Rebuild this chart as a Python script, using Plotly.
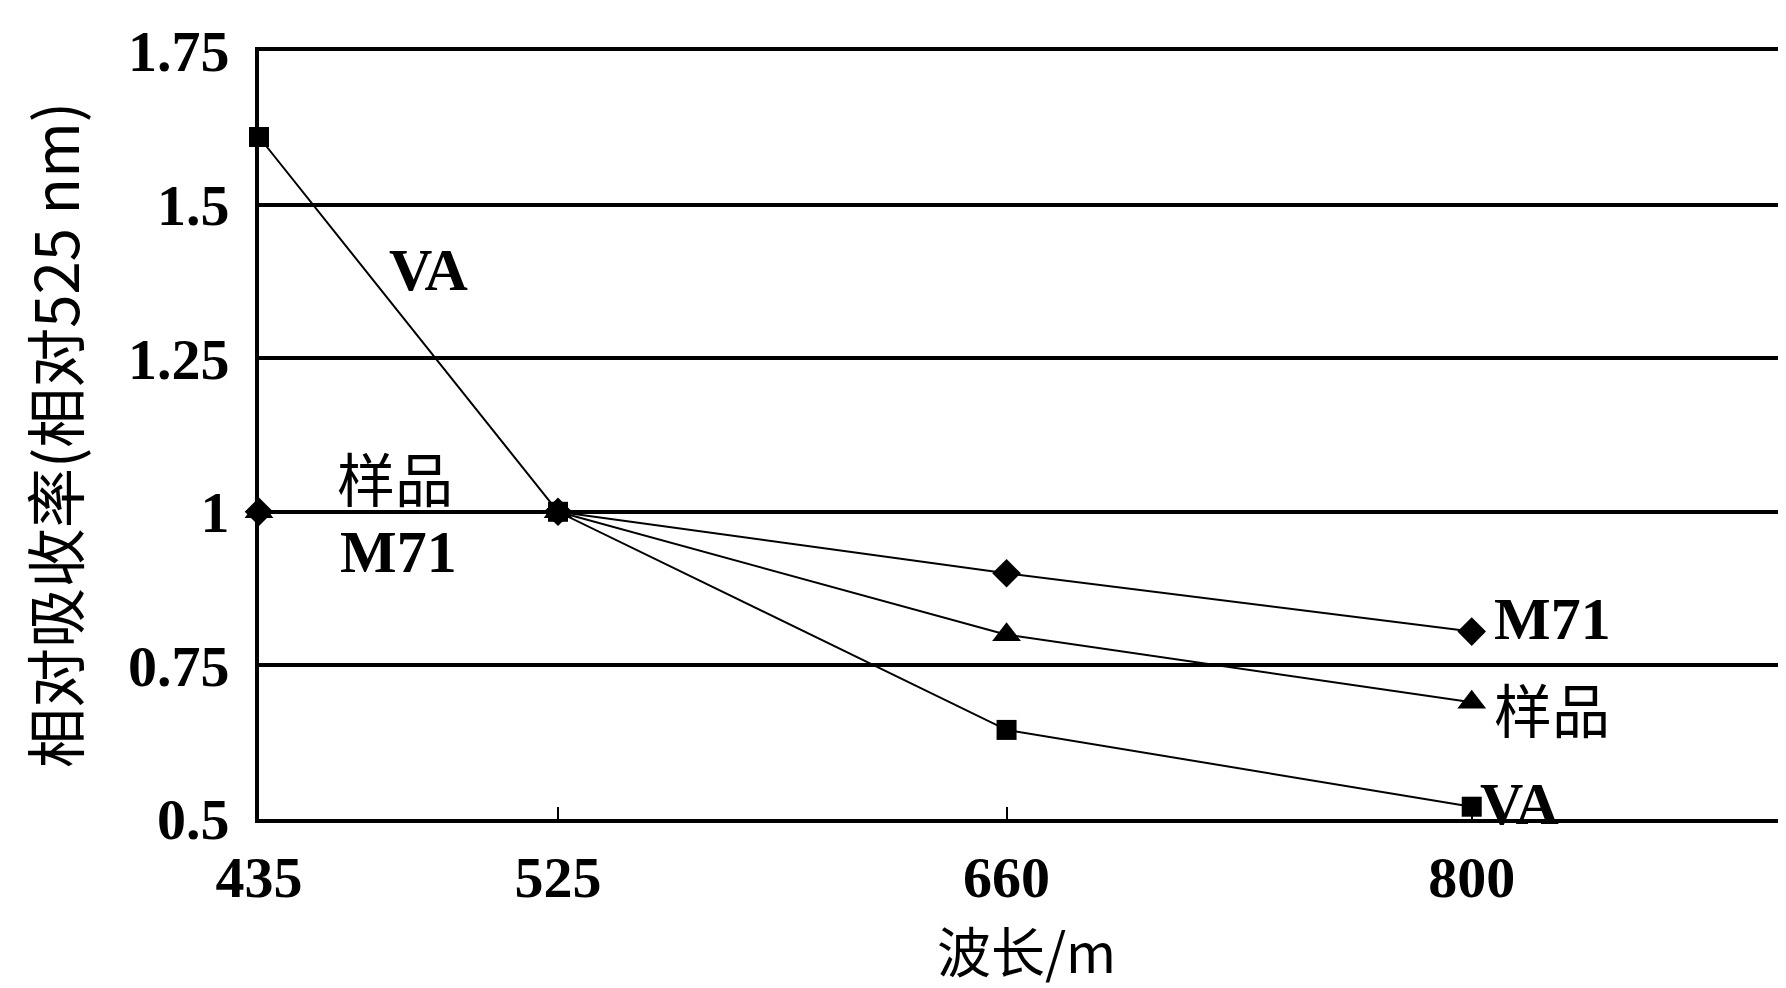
import plotly.graph_objects as go

wavelengths = [435, 525, 660, 800]
va = [1.61, 1.0, 0.645, 0.52]
sample = [1.0, 1.0, 0.80, 0.69]
m71 = [1.0, 1.0, 0.90, 0.805]
x_ticks = [435, 525, 660, 800]
y_ticks = [0.5, 0.75, 1.0, 1.25, 1.5, 1.75]
y_tick_text = ["0.5", "0.75", "1", "1.25", "1.5", "1.75"]

serif = "Liberation Serif, Noto Sans CJK SC"
cjk = "Noto Sans CJK SC, Liberation Serif"

fig = go.Figure()
line = dict(color="black", width=2)
fig.add_trace(go.Scatter(x=wavelengths, y=m71, mode="lines+markers", name="M71",
                         line=line, marker=dict(symbol="diamond", size=22, color="black"),
                         cliponaxis=False))
fig.add_trace(go.Scatter(x=wavelengths, y=sample, mode="lines+markers", name="样品",
                         line=line, marker=dict(symbol="triangle-up", size=25, color="black"),
                         cliponaxis=False))
fig.add_trace(go.Scatter(x=wavelengths, y=va, mode="lines+markers", name="VA",
                         line=line, marker=dict(symbol="square", size=20, color="black"),
                         cliponaxis=False))

ann = dict(showarrow=False, font=dict(family=serif, size=60, color="black", weight="bold"))
ann_cjk = dict(showarrow=False, font=dict(family=cjk, size=58, color="black"))
fig.add_annotation(x=486, y=1.393, text="VA", **ann)
fig.add_annotation(x=476, y=1.057, text="样品", **ann_cjk)
fig.add_annotation(x=477, y=0.935, text="M71", **ann)
fig.add_annotation(x=806, y=0.826, text="M71", xanchor="left", **ann)
fig.add_annotation(x=806, y=0.68, text="样品", xanchor="left", **ann_cjk)
fig.add_annotation(x=802, y=0.524, text="VA", xanchor="left", **ann)

fig.update_layout(
    width=1786, height=988,
    margin=dict(l=251, r=0, t=43, b=177),
    plot_bgcolor="white", paper_bgcolor="white",
    showlegend=False,
    font=dict(family=serif, color="black"),
)
fig.update_xaxes(
    range=[435, 897], tickvals=x_ticks, ticktext=[str(v) for v in x_ticks],
    showgrid=False, zeroline=False,
    showline=True, linecolor="black", linewidth=4, mirror=True,
    ticks="inside", ticklen=12, tickwidth=2, tickcolor="black",
    tickfont=dict(family=serif, size=58, weight="bold"),
    ticklabelstandoff=4,
    title=dict(text="波长/m", font=dict(family=cjk, size=54), standoff=0),
)
fig.update_yaxes(
    range=[0.5, 1.75], tickvals=y_ticks, ticktext=y_tick_text,
    showgrid=True, gridcolor="black", gridwidth=4, zeroline=False,
    showline=True, linecolor="black", linewidth=4,
    ticks="", tickfont=dict(family=serif, size=58, weight="bold"),
    ticklabelstandoff=14,
    title=dict(text="相对吸收率(相对525 nm)", font=dict(family=cjk, size=60), standoff=30),
)

fig.write_html("out.html")
